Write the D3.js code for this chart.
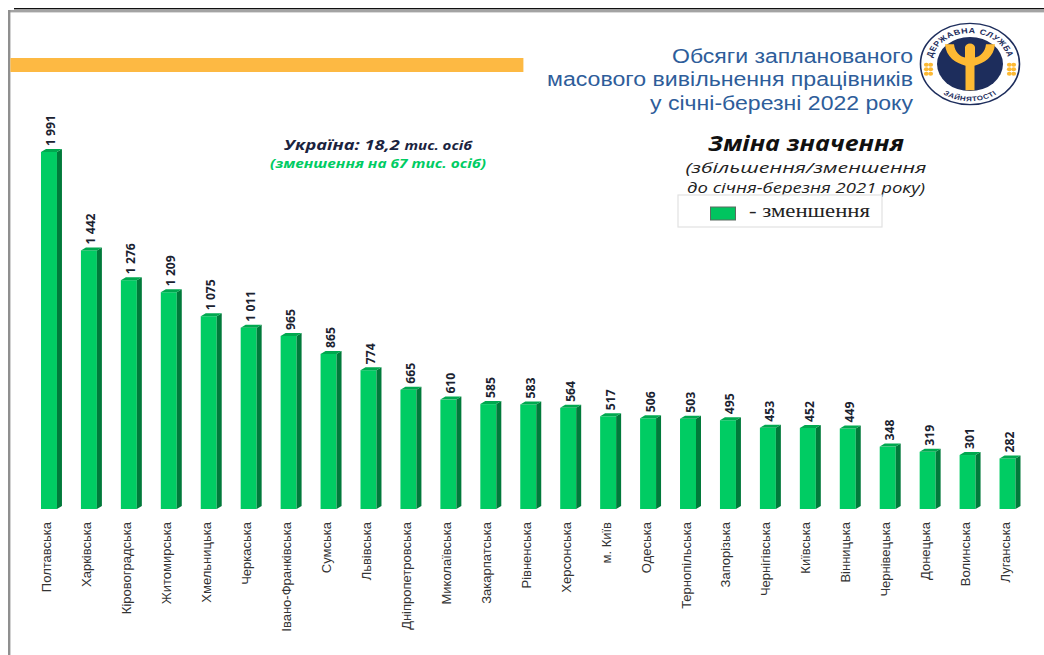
<!DOCTYPE html>
<html>
<head>
<meta charset="utf-8">
<script src="https://d3js.org/d3.v7.min.js"></script>
<style>
  html, body { margin: 0; padding: 0; background: #fff; overflow: hidden; }
  svg { display: block; }
</style>
</head>
<body>
<div id="chart"></div>
<script>
// data
const regions = ['Полтавська', 'Харківська', 'Кіровоградська', 'Житомирська', 'Хмельницька',
  'Черкаська', 'Івано-Франківська', 'Сумська', 'Львівська', 'Дніпропетровська',
  'Миколаївська', 'Закарпатська', 'Рівненська', 'Херсонська', 'м. Київ',
  'Одеська', 'Тернопільська', 'Запорізька', 'Чернігівська', 'Київська',
  'Вінницька', 'Чернівецька', 'Донецька', 'Волинська', 'Луганська'];
const values = [1991, 1442, 1276, 1209, 1075, 1011, 965, 865, 774, 665, 610, 585, 583, 564, 517,
  506, 503, 495, 453, 452, 449, 348, 319, 301, 282];
const valueLabels = ['1 991', '1 442', '1 276', '1 209', '1 075', '1 011', '965', '865', '774', '665',
  '610', '585', '583', '564', '517', '506', '503', '495', '453', '452', '449', '348', '319', '301', '282'];
const titleLines = ['Обсяги запланованого', 'масового вивільнення працівників', 'у січні-березні 2022 року'];
const noteLines = ['(збільшення/зменшення', 'до січня-березня 2021 року)'];

const width = 1044, height = 655;
const svg = d3.select('#chart').append('svg').attr('width', width).attr('height', height);

// the source is a stretched slide, so long strings get fitted to their measured length
const fit = (sel, len) => sel.attr('textLength', len).attr('lengthAdjust', 'spacingAndGlyphs');

// page frame
svg.append('rect').attr('width', width).attr('height', height).attr('fill', '#fff');
svg.append('rect').attr('x', 14).attr('y', 8).attr('width', width - 14).attr('height', 1.4).attr('fill', '#111');
svg.append('rect').attr('x', 8).attr('y', 10).attr('width', width - 8).attr('height', 2.4).attr('fill', '#a3a3a3');
svg.append('rect').attr('x', 8).attr('y', 10).attr('width', 2.4).attr('height', height - 10).attr('fill', '#8f8f8f');
svg.append('rect').attr('x', 10.4).attr('y', 58).attr('width', 513).attr('height', 14).attr('fill', '#fdb943');

// scales
const x = d3.scaleBand().domain(regions).range([31, 1025.5]).paddingInner(0.6).paddingOuter(0.25);
const y = d3.scaleLinear().domain([0, 1991]).range([509, 152]);
const depth = 5, lift = 3;

const bars = svg.append('g').selectAll('g').data(regions).join('g');
// front
bars.append('rect')
  .attr('x', d => x(d))
  .attr('y', (d, i) => y(values[i]))
  .attr('width', x.bandwidth())
  .attr('height', (d, i) => y(0) - y(values[i]))
  .attr('fill', '#00cc63');
// right side
bars.append('path')
  .attr('d', (d, i) => {
    const r = x(d) + x.bandwidth(), t = y(values[i]);
    return `M${r},${t}L${r + depth},${t - lift}L${r + depth},${y(0) - lift}L${r},${y(0)}Z`;
  })
  .attr('fill', '#007a3a');
// top
bars.append('path')
  .attr('d', (d, i) => {
    const l = x(d), r = l + x.bandwidth(), t = y(values[i]);
    return `M${l},${t}L${l + depth},${t - lift}L${r + depth},${t - lift}L${r},${t}Z`;
  })
  .attr('fill', '#00a84f');

// value labels
bars.append('text')
  .attr('transform', (d, i) => `translate(${x(d) + x.bandwidth() / 2 + 6.5},${y(values[i]) - 6}) rotate(-90)`)
  .attr('font-family', '"Open Sans", sans-serif')
  .attr('font-weight', 700)
  .attr('font-size', 13)
  .attr('textLength', (d, i) => valueLabels[i].length > 3 ? 31 : 21)
  .attr('lengthAdjust', 'spacingAndGlyphs')
  .attr('fill', '#1a2230')
  .text((d, i) => valueLabels[i]);

// category axis
const axis = svg.append('g')
  .attr('transform', 'translate(0,509)')
  .call(d3.axisBottom(x).tickSize(0).tickPadding(0));
axis.select('.domain').remove();
axis.selectAll('text')
  .attr('transform', 'translate(0,13) rotate(-90)')
  .attr('x', 0).attr('y', 2.5).attr('dy', 0)
  .attr('text-anchor', 'end')
  .attr('font-family', '"Liberation Sans", sans-serif')
  .attr('font-size', 13)
  .attr('fill', '#333');

// title
const titleWidths = [241, 366, 263];
svg.append('g').selectAll('text').data(titleLines).join('text')
  .attr('x', 913)
  .attr('y', (d, i) => 62.5 + i * 23.5)
  .attr('text-anchor', 'end')
  .attr('font-family', '"Liberation Sans", sans-serif')
  .attr('font-size', 19.5)
  .attr('fill', '#2e5d9a')
  .attr('textLength', (d, i) => titleWidths[i])
  .attr('lengthAdjust', 'spacingAndGlyphs')
  .text(d => d);

// summary note
const ukraine = svg.append('text').attr('x', 378).attr('y', 149.5).attr('text-anchor', 'middle')
  .attr('font-family', '"Open Sans", sans-serif').attr('font-style', 'italic').attr('font-weight', 700)
  .attr('font-size', 14.5).attr('fill', '#1b2440');
ukraine.append('tspan').text('Україна: 18,2 ');
ukraine.append('tspan').attr('font-size', 12).text('тис. осіб');
fit(ukraine, 188);
fit(svg.append('text').attr('x', 378).attr('y', 167.5).attr('text-anchor', 'middle')
  .attr('font-family', '"Open Sans", sans-serif').attr('font-style', 'italic').attr('font-weight', 700)
  .attr('font-size', 12.5).attr('fill', '#00cc63')
  .text('(зменшення на 67 тис. осіб)'), 216);

// legend heading
fit(svg.append('text').attr('x', 806).attr('y', 151).attr('text-anchor', 'middle')
  .attr('font-family', '"Open Sans", sans-serif').attr('font-style', 'italic').attr('font-weight', 700)
  .attr('font-size', 21).attr('fill', '#111')
  .text('Зміна значення'), 196);
const noteWidths = [241, 238], noteSizes = [15, 14];
svg.append('g').selectAll('text').data(noteLines).join('text')
  .attr('x', 806)
  .attr('y', (d, i) => 173 + i * 19.5)
  .attr('text-anchor', 'middle')
  .attr('font-family', '"Open Sans", sans-serif').attr('font-style', 'italic')
  .attr('font-size', (d, i) => noteSizes[i]).attr('fill', '#222')
  .attr('textLength', (d, i) => noteWidths[i])
  .attr('lengthAdjust', 'spacingAndGlyphs')
  .text(d => d);

// legend box
svg.append('rect').attr('x', 678).attr('y', 195).attr('width', 204).attr('height', 32)
  .attr('fill', '#fff').attr('stroke', '#e2e2e2').attr('stroke-width', 1.2);
svg.append('rect').attr('x', 710.5).attr('y', 207).attr('width', 25).attr('height', 13)
  .attr('fill', '#00c45f').attr('stroke', '#5a6b60');
fit(svg.append('text').attr('x', 749).attr('y', 217)
  .attr('font-family', '"Liberation Serif", serif').attr('font-size', 18).attr('fill', '#222')
  .text('- зменшення'), 121);

// logo, squashed vertically like the rest of the slide
const logo = svg.append('g').attr('transform', 'translate(970,64) scale(1,0.82)');
logo.append('circle').attr('r', 49.5).attr('fill', '#fff').attr('stroke', '#1d2d5c').attr('stroke-width', 1.6);
logo.append('circle').attr('r', 33).attr('fill', '#1d2d5c');
logo.append('path')
  .attr('d', 'M-25,-24 C-24,-8 -14,-1 -4.5,2 L-4.5,32 L4.5,32 L4.5,2 C14,-1 24,-8 25,-24 L16,-24 C15,-14 10,-9 5,-8 L5,-20 A5,5 0 0 0 -5,-20 L-5,-8 C-10,-9 -15,-14 -16,-24 Z')
  .attr('fill', '#fdb933');
const defs = svg.append('defs');
defs.append('path').attr('id', 'arcTop').attr('d', 'M-38,10 A39,39 0 1 1 38,10');
defs.append('path').attr('id', 'arcBot').attr('d', 'M-31,33 A45,45 0 0 0 31,33');
logo.append('text').attr('font-family', '"Liberation Sans", sans-serif').attr('font-weight', 700)
  .attr('font-size', 9).attr('letter-spacing', 0.7).attr('fill', '#1d2d5c')
  .append('textPath').attr('href', '#arcTop').attr('startOffset', '50%').attr('text-anchor', 'middle')
  .text('ДЕРЖАВНА СЛУЖБА');
logo.append('text').attr('font-family', '"Liberation Sans", sans-serif').attr('font-weight', 700)
  .attr('font-size', 8).attr('letter-spacing', 0.6).attr('fill', '#1d2d5c')
  .append('textPath').attr('href', '#arcBot').attr('startOffset', '50%').attr('text-anchor', 'middle')
  .text('ЗАЙНЯТОСТІ');
// wheat ears either side
[-41.5, 41.5].forEach(cx => {
  [1, 6.5, 12].forEach(cy => {
    logo.append('circle').attr('cx', cx - 2.2).attr('cy', cy).attr('r', 2.4).attr('fill', '#fdb933');
    logo.append('circle').attr('cx', cx + 2.2).attr('cy', cy).attr('r', 2.4).attr('fill', '#fdb933');
  });
});
</script>
</body>
</html>
